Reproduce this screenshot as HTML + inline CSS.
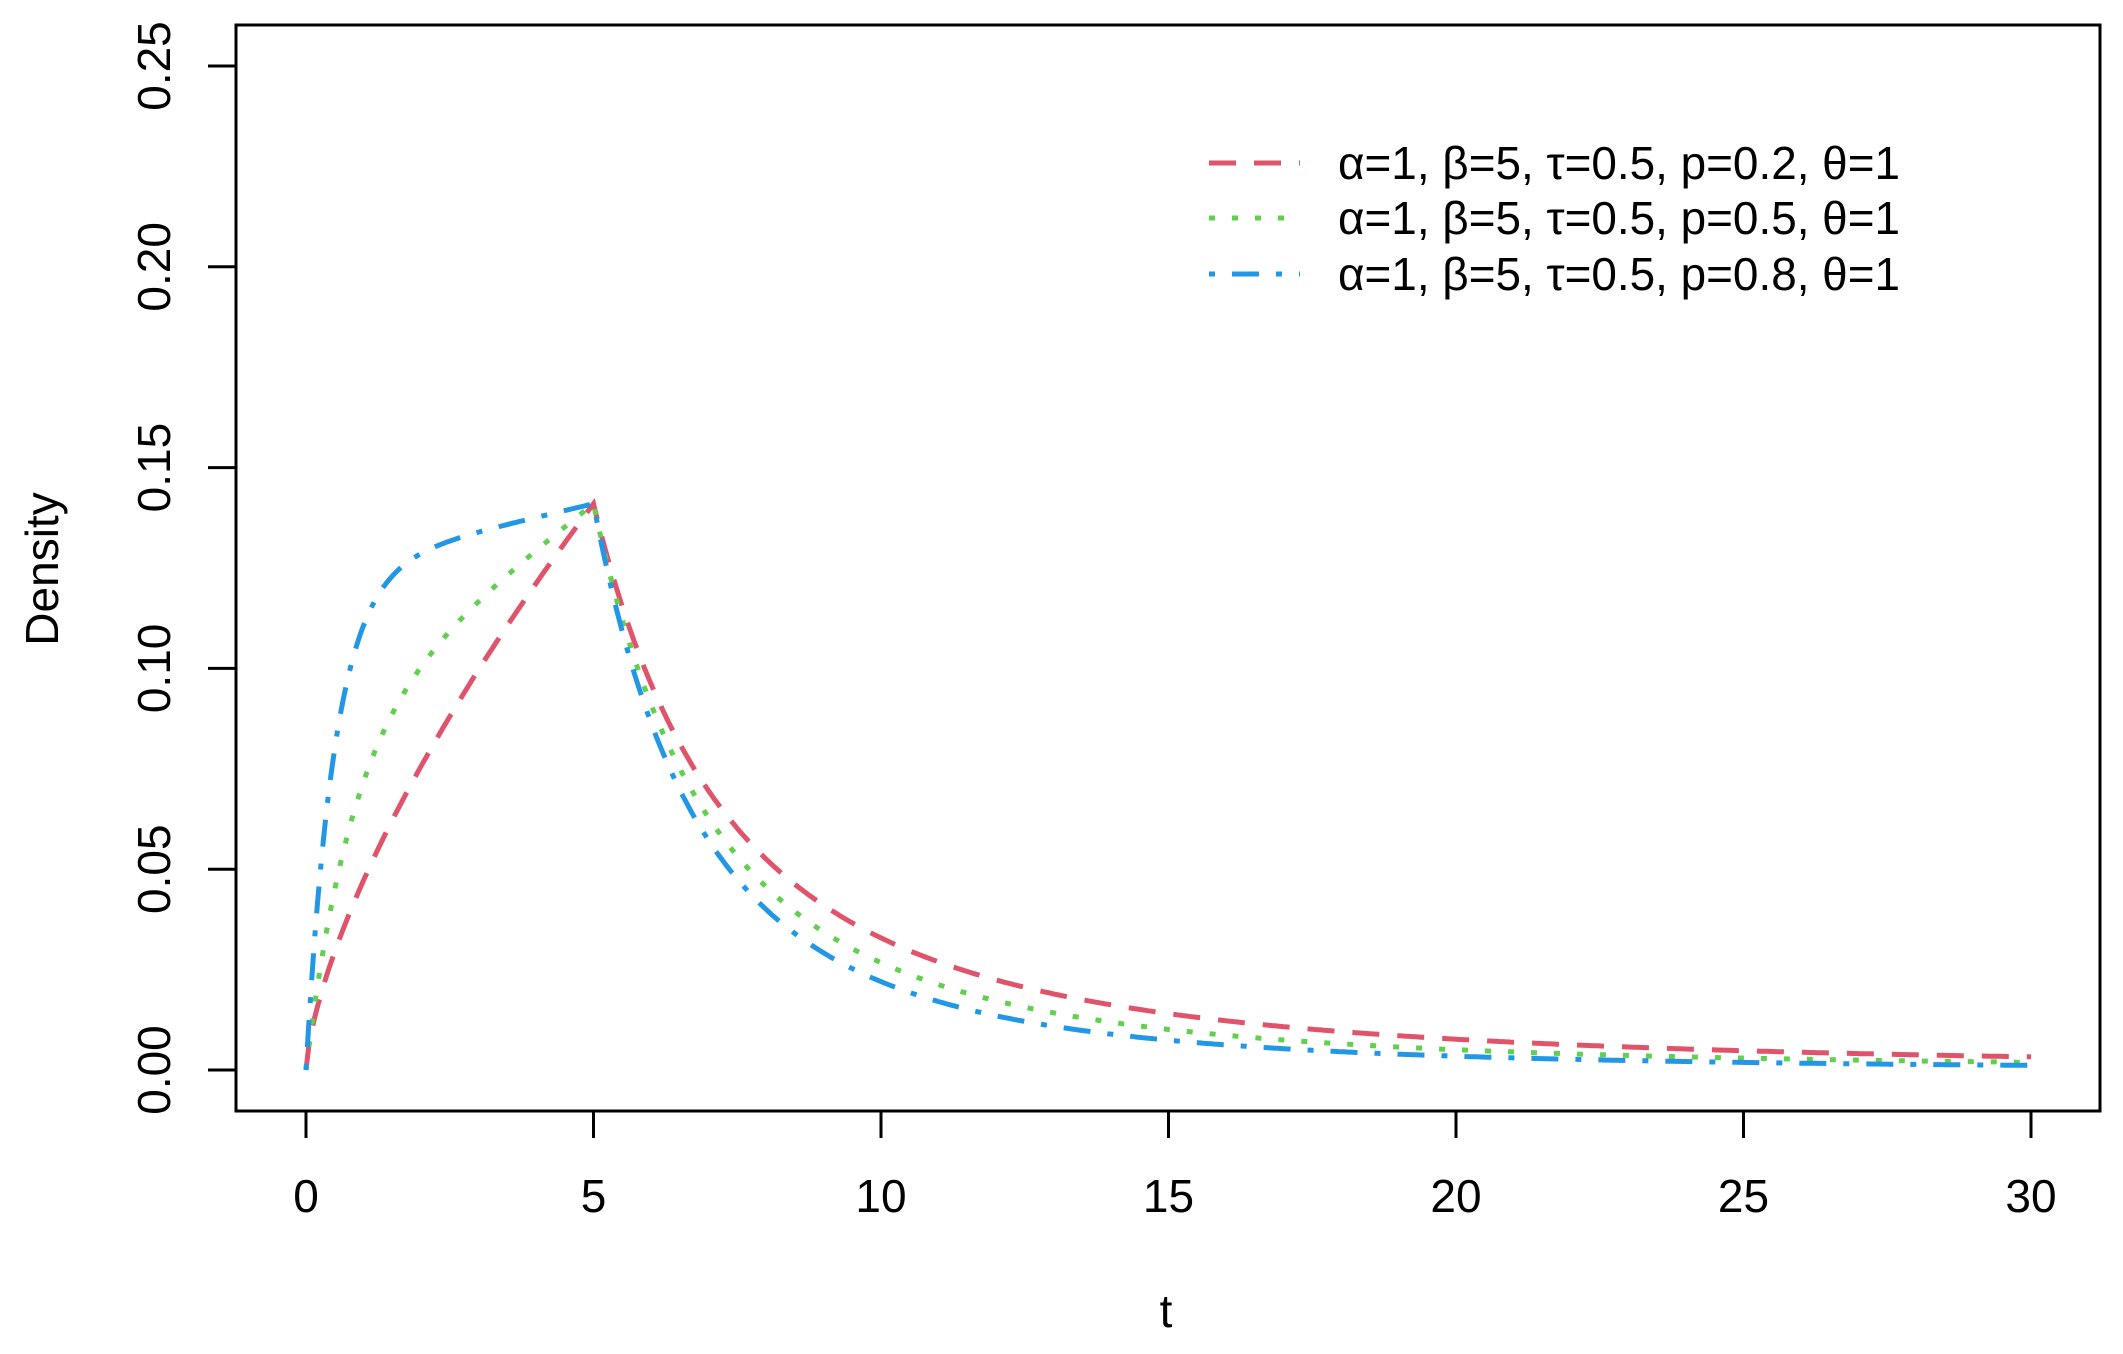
<!DOCTYPE html>
<html><head><style>html,body{margin:0;padding:0;background:#fff}svg{display:block}</style></head>
<body>
<svg id="s" width="2123" height="1354" xmlns="http://www.w3.org/2000/svg" font-family="Liberation Sans, Arial, sans-serif">
<rect width="2123" height="1354" fill="#fff"/>
<rect x="236" y="25" width="1864" height="1086" fill="none" stroke="#000" stroke-width="3"/>
<g stroke="#000" stroke-width="3" id="ticks"></g>
<g font-size="46" fill="#000" id="labels"></g>
<text x="1166" y="1327" font-size="46" text-anchor="middle">t</text>
<text transform="translate(58,569) rotate(-90)" font-size="46" text-anchor="middle">Density</text>
<g id="curves" fill="none" stroke-width="5"></g>
<g stroke-width="5" fill="none">
<line x1="1209" y1="163" x2="1300" y2="163" stroke="#DF536B" stroke-dasharray="27 18"/>
<line x1="1209" y1="218" x2="1300" y2="218" stroke="#61D04F" stroke-dasharray="6 17"/>
<line x1="1209" y1="274" x2="1300" y2="274" stroke="#2297E6" stroke-dasharray="6 17 27 17"/>
</g>
<g font-size="46" fill="#000">
<text x="1338" y="179" textLength="562" lengthAdjust="spacingAndGlyphs">α=1, β=5, τ=0.5, p=0.2, θ=1</text>
<text x="1338" y="234" textLength="562" lengthAdjust="spacingAndGlyphs">α=1, β=5, τ=0.5, p=0.5, θ=1</text>
<text x="1338" y="290" textLength="562" lengthAdjust="spacingAndGlyphs">α=1, β=5, τ=0.5, p=0.8, θ=1</text>
</g>
</svg>
<script>
var NS="http://www.w3.org/2000/svg";
function X(t){return 306+t*57.5;}
function Y(v){return 1070-v*4016;}
function el(n,a,p,txt){var e=document.createElementNS(NS,n);for(var k in a)e.setAttribute(k,a[k]);if(txt!==undefined)e.textContent=txt;document.getElementById(p).appendChild(e);return e;}
for(var i=0;i<=6;i++){var x=X(i*5);el("line",{x1:x,y1:1111,x2:x,y2:1138},"ticks");el("text",{x:x,y:1212,"text-anchor":"middle"},"labels",String(i*5));}
var yl=["0.00","0.05","0.10","0.15","0.20","0.25"];
for(var j=0;j<6;j++){var y=Y(j*0.05);el("line",{x1:208,y1:y,x2:236,y2:y},"ticks");el("text",{transform:"translate(170,"+y+") rotate(-90)","text-anchor":"middle"},"labels",yl[j]);}
function rise(t,c){return (1-Math.exp(-t/c))/(1-Math.exp(-5/c));}
var sers=[{c:"#DF536B",r:function(t){return Math.pow(t/5,0.68);},k:2.1,d:"27 18"},
{c:"#61D04F",r:function(t){return 0.6*rise(t,0.8)+0.4*t/5;},k:2.4,d:"6 17"},
{c:"#2297E6",r:function(t){return 0.88*rise(t,0.5)+0.12*t/5;},k:2.68,d:"6 17 27 17"}];
sers.forEach(function(s){var p="";for(var t=0;t<=30.0001;t+=0.05){var v=t<=5?0.141*s.r(t):0.141*Math.pow(5/t,s.k);p+=(p?"L":"M")+X(t).toFixed(1)+","+Y(v).toFixed(1);}
el("path",{d:p,stroke:s.c,"stroke-dasharray":s.d},"curves");});
</script>
</body></html>
